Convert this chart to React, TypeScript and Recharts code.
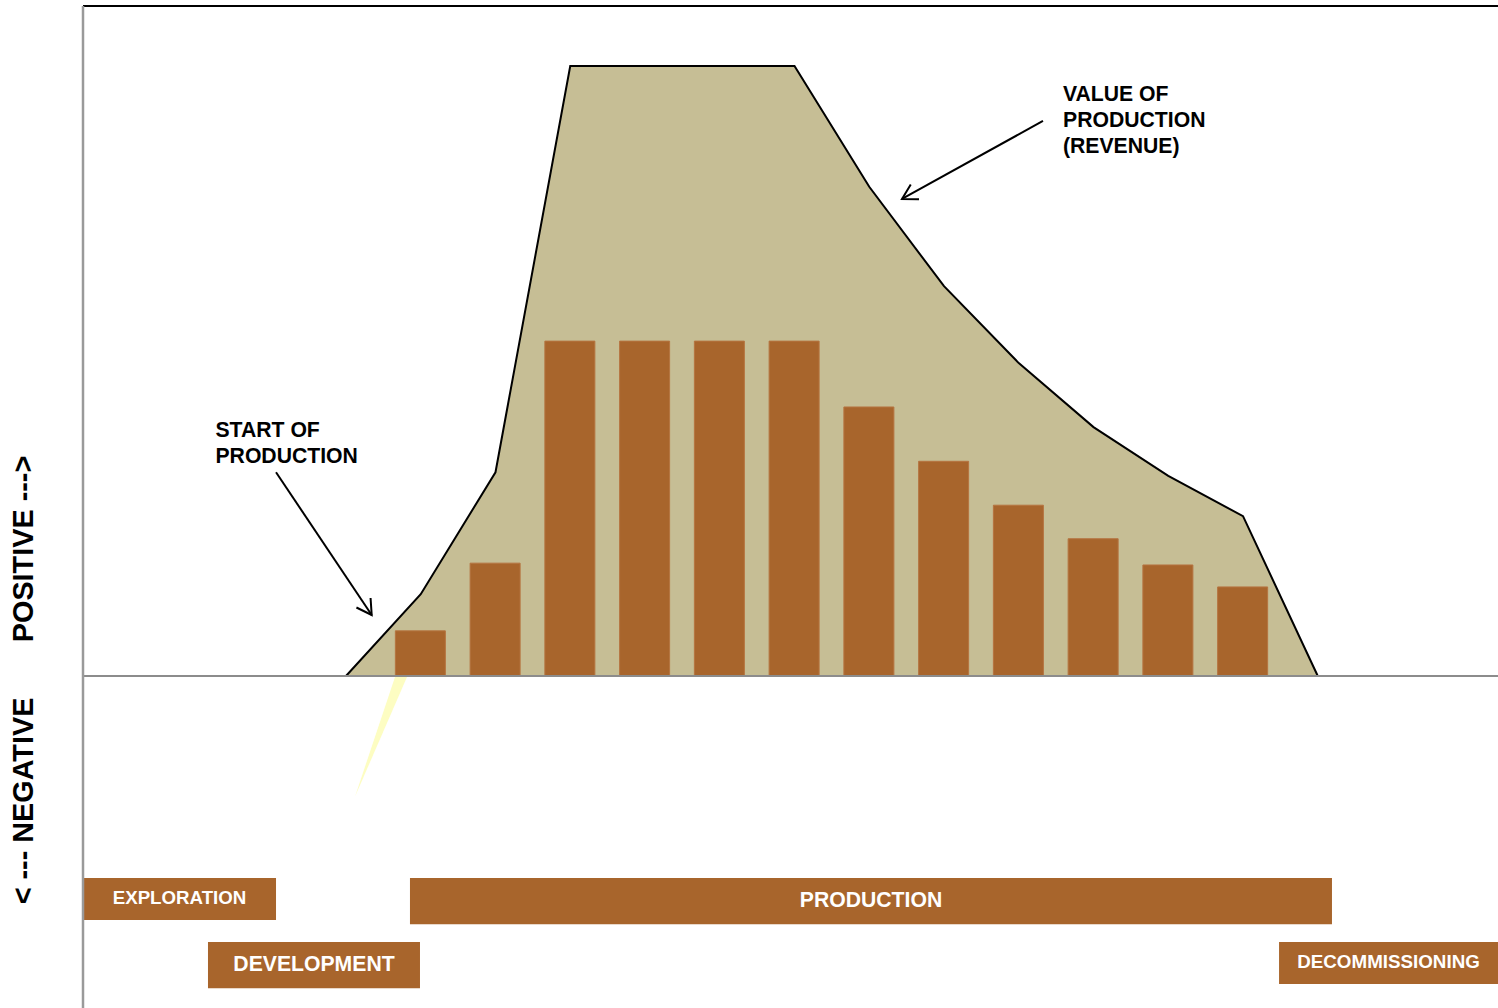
import React from 'react';
import { ComposedChart, Area, Bar, XAxis, YAxis, ReferenceLine, ReferenceArea, ReferenceDot } from 'recharts';

// periods along the life of the field (0 = first revenue, 13 = end of production)
const periods = [0, 1, 2, 3, 4, 5, 6, 7, 8, 9, 10, 11, 12, 13];
// value of production (revenue), relative units
const revenue = [0, 13.4, 33.4, 100, 100, 100, 100, 80.2, 63.9, 51.3, 40.8, 32.8, 26.2, 0];
// yearly production bars
const production = [null, 7.4, 18.5, 54.9, 54.9, 54.9, 54.9, 44.1, 35.2, 28.0, 22.5, 18.2, 14.6, null];

const X_MIN = -3.518;
const X_MAX = 15.411;
const Y_MIN = -54.43;
const Y_MAX = 109.84;

// project phases
const phaseNames = ['EXPLORATION', 'DEVELOPMENT', 'PRODUCTION', 'DECOMMISSIONING'];
const phaseStart = [X_MIN, -1.846, 0.856, 12.482];
const phaseEnd = [-0.936, 0.99, 13.19, X_MAX];
const phaseTop = [-33.1, -43.6, -33.1, -43.6];
const phaseBottom = [-40.0, -51.2, -40.7, -50.5];

// annotations
const noteLines = [['VALUE OF', 'PRODUCTION', '(REVENUE)'], ['START OF', 'PRODUCTION']];
const notePos = [{ x: 9.592, y: 94.2 }, { x: -1.746, y: 39.2 }];
const arrowFrom = [{ x: 9.324, y: 91.0 }, { x: -0.936, y: 33.4 }];
const arrowTo = [{ x: 7.438, y: 78.2 }, { x: 0.344, y: 10.0 }];
const glare = [{ x: 0.736, y: -0.16 }, { x: 0.12, y: -19.8 }];

const data = periods.map((p, i) => ({ x: p, revenue: revenue[i], production: production[i] }));

const FONT = '"Liberation Sans", Arial, sans-serif';
const BROWN = '#A8652C';
const phaseFont = [18.7, 21.2, 21.2, 18.8];

const Arrow = (props: any) => {
  const { x1, y1, x2, y2 } = props;
  const ang = Math.atan2(y2 - y1, x2 - x1);
  const L = 17;
  const a = Math.PI / 6;
  const p1 = `${x2 - L * Math.cos(ang - a)},${y2 - L * Math.sin(ang - a)}`;
  const p2 = `${x2 - L * Math.cos(ang + a)},${y2 - L * Math.sin(ang + a)}`;
  return (
    <g>
      <line x1={x1} y1={y1} x2={x2} y2={y2} stroke="#000" strokeWidth={2} />
      <polyline points={`${p1} ${x2},${y2} ${p2}`} fill="none" stroke="#000" strokeWidth={2} />
    </g>
  );
};

const Glare = (props: any) => {
  const { x1, y1, x2, y2 } = props;
  return <polygon points={`${x1 - 6},${y1} ${x1 + 6},${y1} ${x2},${y2}`} fill="#FDFDC2" />;
};

const makeNote = (lines: string[]) => (props: any) => {
  const { cx, cy } = props;
  return (
    <text x={cx} y={cy} fontFamily={FONT} fontWeight="bold" fontSize={21.2} fill="#000">
      {lines.map((l, i) => (
        <tspan key={i} x={cx} dy={i === 0 ? 0 : 26}>{l}</tspan>
      ))}
    </text>
  );
};

const AxisTitle = (props: any) => {
  const vb = props.viewBox || { x: 0, y: 6, width: 83, height: 1002 };
  const zeroY = vb.y + (vb.height * Y_MAX) / (Y_MAX - Y_MIN);
  const tx = 33;
  const posY = zeroY - 127;
  const negY = zeroY + 125;
  return (
    <g fontFamily={FONT} fontWeight="bold" fontSize={28.8} fill="#000">
      <text x={tx} y={posY} textAnchor="middle" transform={`rotate(-90, ${tx}, ${posY})`}>POSITIVE ---&gt;</text>
      <text x={tx} y={negY} textAnchor="middle" transform={`rotate(-90, ${tx}, ${negY})`}>&lt; --- NEGATIVE</text>
    </g>
  );
};

export default function App() {
  return (
    <div style={{ width: 1498, height: 1008, background: '#fff' }}>
      <style>{`body{margin:0}`}</style>
      <ComposedChart width={1498} height={1008} data={data} margin={{ top: 6, right: 0, bottom: 0, left: 0 }}>
        <XAxis type="number" dataKey="x" domain={[X_MIN, X_MAX]} allowDataOverflow hide />
        <YAxis
          type="number"
          domain={[Y_MIN, Y_MAX]}
          allowDataOverflow
          width={83}
          tick={false}
          tickLine={false}
          axisLine={{ stroke: '#9a9a9a', strokeWidth: 2.5 }}
          label={{ content: AxisTitle }}
        />
        <Area
          type="linear"
          dataKey="revenue"
          stroke="#000"
          strokeWidth={2}
          fill="#C6BE95"
          fillOpacity={1}
          dot={false}
          activeDot={false}
          isAnimationActive={false}
        />
        <Bar dataKey="production" barSize={50} fill={BROWN} stroke="#B57440" strokeWidth={1} isAnimationActive={false} />
        <ReferenceLine y={0} stroke="#8c8c8c" strokeWidth={2} />
        <ReferenceLine y={Y_MAX} stroke="#000" strokeWidth={2} ifOverflow="visible" />
        <ReferenceLine segment={glare} shape={Glare} ifOverflow="visible" />
        {phaseNames.map((name, i) => (
          <ReferenceArea
            key={name}
            x1={phaseStart[i]}
            x2={phaseEnd[i]}
            y1={phaseTop[i]}
            y2={phaseBottom[i]}
            fill={BROWN}
            fillOpacity={1}
            stroke="none"
            ifOverflow="visible"
            label={{ value: name, position: 'center', dy: -1.5, fill: '#fff', fontSize: phaseFont[i], fontWeight: 'bold', fontFamily: FONT }}
          />
        ))}
        {arrowFrom.map((f, i) => (
          <ReferenceLine key={`arrow-${i}`} segment={[f, arrowTo[i]]} shape={Arrow} ifOverflow="visible" />
        ))}
        {notePos.map((p, i) => (
          <ReferenceDot key={`note-${i}`} x={p.x} y={p.y} r={0} shape={makeNote(noteLines[i])} ifOverflow="visible" />
        ))}
      </ComposedChart>
    </div>
  );
}
